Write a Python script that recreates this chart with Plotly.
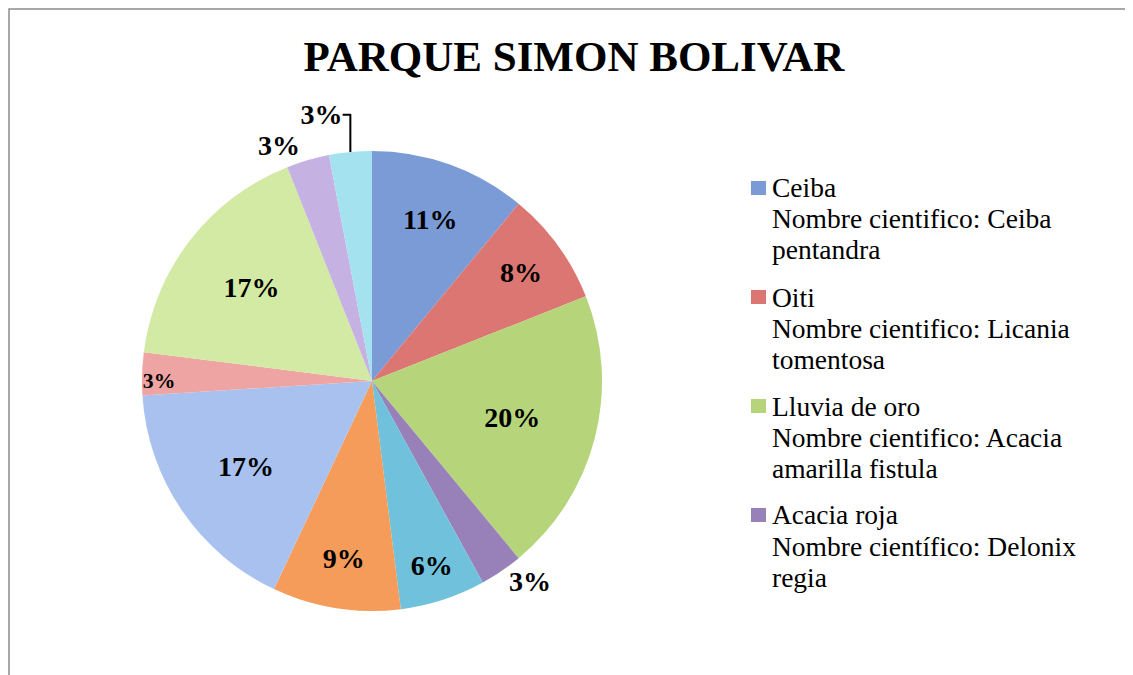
import plotly.graph_objects as go

# ---- data ----
species = ["Ceiba", "Oiti", "Lluvia de oro", "Acacia roja", "Especie 5", "Especie 6",
           "Especie 7", "Especie 8", "Especie 9", "Especie 10", "Especie 11"]
percent_values = [11, 8, 20, 3, 6, 9, 17, 3, 17, 3, 3]
legend_lines = [
    ["Ceiba", "Nombre cientifico: Ceiba", "pentandra"],
    ["Oiti", "Nombre cientifico: Licania", "tomentosa"],
    ["Lluvia de oro", "Nombre cientifico: Acacia", "amarilla fistula"],
    ["Acacia roja", "Nombre científico: Delonix", "regia"],
]
title_text = "PARQUE SIMON BOLIVAR"

# ---- styles ----
colors = ["#7b9bd6", "#dc7672", "#b6d57a", "#9880b8", "#70c1dc", "#f59c5a",
          "#a9c1ee", "#eea4a2", "#d2eaa4", "#c5b2e2", "#a4e2f0"]
text_pos = ["inside", "inside", "inside", "outside", "inside", "inside",
            "inside", "inside", "inside", "outside", "outside"]

W, H = 1133, 675
OFF = 8  # page body margin offset
def px(x):
    return (x - OFF) / W
def py(y):
    return 1 - (y - OFF) / H

cx, cy, half = 372, 381, 230

fig = go.Figure()
fig.add_trace(go.Pie(
    labels=species,
    values=percent_values,
    sort=False,
    direction="clockwise",
    rotation=0,
    marker=dict(colors=colors, line=dict(width=0)),
    texttemplate="%{percent:.0%}",
    textposition=text_pos,
    insidetextorientation="horizontal",
    textfont=dict(family="Liberation Serif", size=28, color="black", weight="bold"),
    outsidetextfont=dict(family="Liberation Serif", size=28, color="black", weight="bold"),
    showlegend=False,
    hoverinfo="label+percent",
    domain=dict(x=[px(cx - half), px(cx + half)],
                y=[py(cy + half), py(cy - half)]),
))

annotations = []
shapes = []
# frame
shapes.append(dict(type="rect", xref="paper", yref="paper",
                   x0=1 / W, x1=1.01, y0=-0.01, y1=1 - 1 / H,
                   line=dict(color="#8c8c8c", width=1.5), fillcolor="rgba(0,0,0,0)"))

item_top = [188, 297, 406, 515]
for i, lines in enumerate(legend_lines):
    y0 = item_top[i]
    shapes.append(dict(type="rect", xref="paper", yref="paper",
                       x0=px(751), x1=px(766),
                       y0=py(y0 + 7), y1=py(y0 - 7),
                       line=dict(width=0), fillcolor=colors[i]))
    for j, t in enumerate(lines):
        annotations.append(dict(
            text=t, xref="paper", yref="paper",
            x=px(770), y=py(y0 + 31 * j),
            xanchor="left", yanchor="middle", showarrow=False,
            font=dict(family="Liberation Serif", size=27.5, color="black"),
        ))

fig.update_layout(
    width=W, height=H,
    margin=dict(l=0, r=0, t=0, b=0),
    paper_bgcolor="white",
    title=dict(text=title_text, x=px(574), xanchor="center", y=py(56), yanchor="middle",
               font=dict(family="Liberation Serif", size=43, color="black", weight="bold")),
    annotations=annotations,
    shapes=shapes,
)

fig.write_html("out.html")
